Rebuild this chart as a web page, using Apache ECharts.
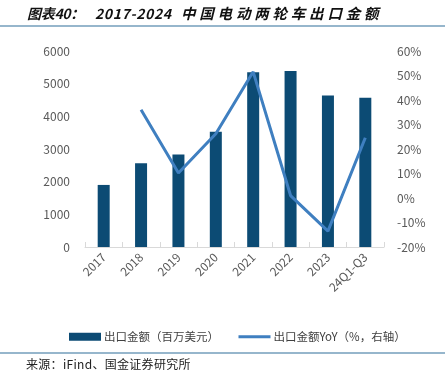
<!DOCTYPE html>
<html>
<head>
<meta charset="utf-8">
<script src="https://cdn.jsdelivr.net/npm/echarts@6/dist/echarts.min.js"></script>
<style>
html,body{margin:0;padding:0;background:#fff;}
#wrap{position:relative;width:445px;height:374px;overflow:hidden;}
#c{position:absolute;left:0;top:0;width:445px;height:374px;}
.t{position:absolute;white-space:nowrap;font-family:"Noto Sans CJK SC",sans-serif;font-weight:bold;font-style:italic;color:#111;line-height:1;}
#src{position:absolute;left:26px;top:358px;white-space:nowrap;font-family:"Noto Sans CJK SC",sans-serif;font-size:12px;color:#222;line-height:1;letter-spacing:0.3px;}
</style>
</head>
<body>
<div id="wrap">
<div id="c"></div>
<div id="title"><span class="t" style="left:27px;top:6px;font-size:14px;letter-spacing:-0.3px;">图表40：</span><span class="t" style="left:95px;top:6px;font-size:14px;letter-spacing:0.6px;">2017-2024</span><span class="t" style="left:181px;top:6px;font-size:14.5px;letter-spacing:3.8px;">中国电动两轮车出口金额</span></div>
<div id="src">来源：iFind、国金证券研究所</div>
</div>
<script>
const categories = ['2017','2018','2019','2020','2021','2022','2023','24Q1-Q3'];
const exportValue = [1900, 2560, 2830, 3530, 5350, 5390, 4640, 4570];
const exportYoY = [null, 36.0, 10.2, 26.2, 51.5, 1.0, -13.5, 24.6];
const leftTicks = [0, 6000, 1000];
const rightTicks = [-20, 60, 10];
const barName = '出口金额（百万美元）';
const lineName = '出口金额YoY（%，右轴）';

const chart = echarts.init(document.getElementById('c'), null, {renderer:'canvas'});
const font = '"Noto Sans CJK SC",sans-serif';
chart.setOption({
  animation: false,
  graphic: [
    {type:'line', shape:{x1:0,y1:26,x2:445,y2:26}, style:{stroke:'#2f6f9a', lineWidth:1.2}},
    {type:'line', shape:{x1:0,y1:353,x2:445,y2:353}, style:{stroke:'#2f6f9a', lineWidth:1.2}}
  ],
  grid: {left:85, right:61, top:51, bottom:127, containLabel:false},
  legend: {
    top: 326, left: 64, itemGap: 18,
    itemWidth: 32, itemHeight: 8,
    textStyle: {fontFamily: font, fontSize: 11.5, color:'#404040', padding:[0,0,0,-2]},
    data: [
      {name: barName, icon:'rect'},
      {name: lineName, itemStyle:{opacity:0}, lineStyle:{width:3, color:'#3f7fc0'}}
    ]
  },
  xAxis: {
    type:'category', data: categories,
    axisLine: {lineStyle:{color:'#d9d9d9'}},
    axisTick: {show:true, inside:true, length:5, lineStyle:{color:'#d9d9d9'}},
    axisLabel: {rotate:45, color:'#595959', fontSize:12, fontFamily:font, margin:8}
  },
  yAxis: [
    {type:'value', min:leftTicks[0], max:leftTicks[1], interval:leftTicks[2],
     splitLine:{show:false}, axisLine:{show:false}, axisTick:{show:false},
     axisLabel:{color:'#595959', fontSize:12, fontFamily:font, margin:15, formatter: v => String(v)}},
    {type:'value', min:rightTicks[0], max:rightTicks[1], interval:rightTicks[2],
     splitLine:{show:false}, axisLine:{show:false}, axisTick:{show:false},
     axisLabel:{color:'#595959', fontSize:12, fontFamily:font, margin:13, formatter:'{value}%'}}
  ],
  series: [
    {name: barName, type:'bar', data: exportValue, barWidth:12, itemStyle:{color:'#0c4b74'}},
    {name: lineName, type:'line', yAxisIndex:1, data: exportYoY, symbol:'none',
     lineStyle:{color:'#3f7fc0', width:3}, itemStyle:{color:'#3f7fc0'}}
  ]
});
</script>
</body>
</html>
